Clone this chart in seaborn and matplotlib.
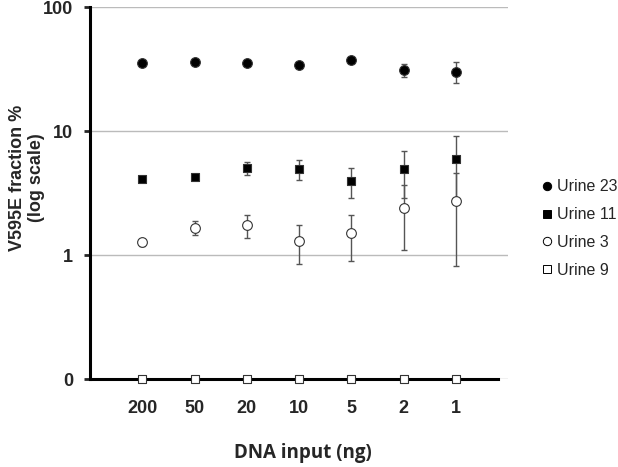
import numpy as np
import pandas as pd
import matplotlib
matplotlib.use('Agg')
import matplotlib.pyplot as plt
import seaborn as sns
from matplotlib.lines import Line2D

# dados
dna_input = ['200', '50', '20', '10', '5', '2', '1']
urine23 = [35.5, 36.3, 35.6, 34.0, 37.4, 31.2, 30.0]
urine23_err = [0.8, 0.8, 0.8, 0.8, 1.2, 3.8, 5.8]
urine11 = [4.1, 4.25, 5.0, 4.9, 3.95, 4.9, 5.9]
urine11_err = [0.1, 0.25, 0.6, 0.9, 1.08, 2.0, 3.2]
urine3 = [1.27, 1.66, 1.75, 1.30, 1.50, 2.40, 2.71]
urine3_err = [0.08, 0.22, 0.37, 0.45, 0.6, 1.3, 1.9]
urine9 = [0, 0, 0, 0, 0, 0, 0]
floor = 0.1  # zero shown at the bottom of the log axis

sns.set_style('white')
plt.rcParams['font.family'] = ['Liberation Sans', 'DejaVu Sans']

fig = plt.figure(figsize=(6.18, 4.67), dpi=100)
ax = fig.add_axes([90 / 618, 88 / 467, 418 / 618, 372 / 467])

x = np.arange(len(dna_input))
series = [
    ('Urine 23', urine23, urine23_err, 'o', 'black', 7),
    ('Urine 11', urine11, urine11_err, 's', 'black', 6.3),
    ('Urine 3', urine3, urine3_err, 'o', 'white', 7),
    ('Urine 9', urine9, None, 's', 'white', 6.3),
]

for name, vals, err, marker, face, size in series:
    y = np.maximum(np.array(vals, dtype=float), floor)
    if err is not None:
        ax.errorbar(x, y, yerr=err, fmt='none', ecolor='#555555', elinewidth=1,
                    capsize=2.5, capthick=1, zorder=2)
    df = pd.DataFrame({'x': x, 'y': y})
    sns.scatterplot(data=df, x='x', y='y', marker=marker, color=face, edgecolor='#333333',
                    linewidth=0.8, s=size ** 2, ax=ax, zorder=4, clip_on=False)

ax.set_yscale('log')
ax.set_ylim(floor, 100)
ax.set_xlim(-1, 7)
ax.set_yticks([0.1, 1, 10, 100])
ax.set_yticklabels(['0', '1', '10', '100'])
ax.yaxis.set_minor_locator(matplotlib.ticker.NullLocator())
ax.set_xticks(x)
ax.set_xticklabels(dna_input)
for lbl in ax.get_xticklabels() + ax.get_yticklabels():
    lbl.set_fontweight('bold')
    lbl.set_fontsize(13)
ax.tick_params(axis='y', which='major', length=4, width=2, direction='out', left=True, pad=8)
ax.tick_params(axis='x', length=0, pad=15)

ax.grid(axis='y', color='#bbbbbb', linewidth=1)
ax.set_axisbelow(True)
for s in ['top', 'right']:
    ax.spines[s].set_visible(False)
ax.spines['left'].set_linewidth(2.2)
ax.spines['bottom'].set_linewidth(2.2)
ax.spines['left'].set_color('black')
ax.spines['bottom'].set_color('black')
ax.spines['bottom'].set_bounds(-1, 6.8)

ax.set_ylabel('V595E fraction %\n(log scale)', fontsize=13, fontweight='bold')
ax.yaxis.set_label_coords((27 - 90) / 418, (379 - 178) / 372)
ax.yaxis.label.set_va('center')
ax.set_xlabel('DNA input (ng)', fontsize=13.5, fontweight='bold', family=['Open Sans', 'DejaVu Sans'])
ax.xaxis.set_label_coords((303 - 90) / 418, (379 - 453) / 372)
ax.xaxis.label.set_va('center')

handles = [Line2D([], [], marker=m, color='none', markerfacecolor=f, markeredgecolor='black',
                  markeredgewidth=0.7, markersize=6 if m == 'o' else 5.5)
           for _, _, _, m, f, _ in series]
fig.legend(handles, [s[0] for s in series], loc='upper left', bbox_to_anchor=(531 / 618, 1 - 173 / 467),
           frameon=False, fontsize=11.5, handletextpad=0.0, handlelength=1.2, labelspacing=0.8,
           borderaxespad=0)

fig.savefig('out.png', dpi=100, facecolor='white')
plt.close()
